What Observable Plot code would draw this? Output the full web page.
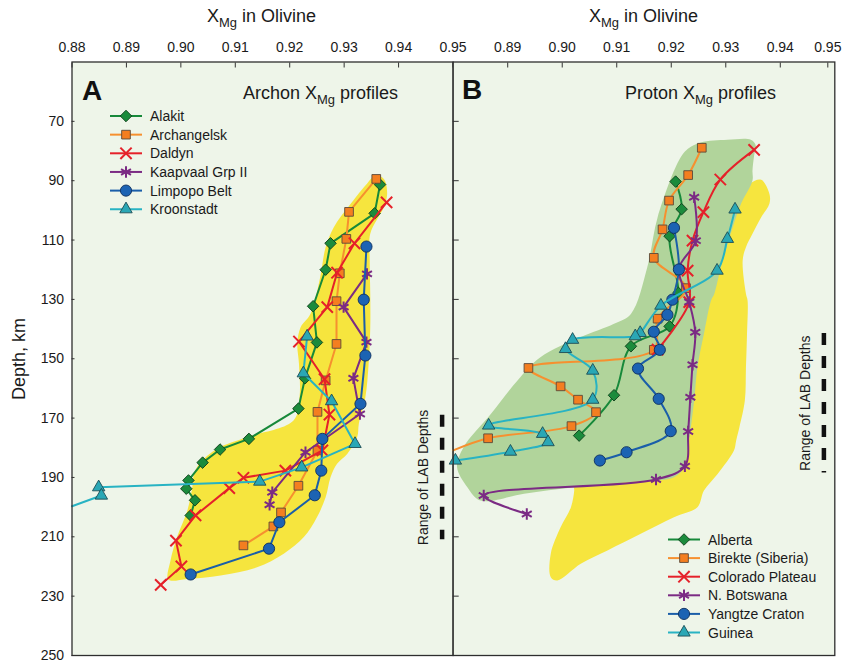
<!DOCTYPE html>
<html><head><meta charset="utf-8">
<script src="https://cdn.jsdelivr.net/npm/d3@7"></script>
<script src="https://cdn.jsdelivr.net/npm/@observablehq/plot@0.6"></script>
<style>
body{margin:0;background:#fff;font-family:"Liberation Sans",Arial,Helvetica,sans-serif;}
#wrap{position:relative;width:845px;height:661px;overflow:hidden;background:#fff}
#wrap > svg{position:absolute;top:0}
</style></head><body><div id="wrap"></div>
<script>
// ---------- axis ticks ----------
const xDomain = [0.88, 0.95];
const yDomain = [50, 250];
const xTicksA = [0.88, 0.89, 0.90, 0.91, 0.92, 0.93, 0.94, 0.95];
const xTicksB = [0.89, 0.90, 0.91, 0.92, 0.93, 0.94];
const xTickBEnd = [0.95];
const yTicks = [70, 90, 110, 130, 150, 170, 190, 210, 230, 250];

// ---------- Archon profiles (XMg, depth km) ----------
const alakit = [[0.9366,91.3],[0.9356,101.0],[0.9275,111.1],[0.9266,120.0],[0.9243,132.3],[0.9250,144.5],[0.9228,156.6],[0.9216,166.8],[0.9125,177.0],[0.9072,180.6],[0.9040,185.0],[0.9014,191.0],[0.9010,193.8],[0.9026,197.7],[0.9018,202.8]];
const archangelsk = [[0.9359,89.4],[0.9309,100.5],[0.9304,109.6],[0.9292,121.2],[0.9286,130.6],[0.9286,145.0],[0.9266,157.3],[0.9251,167.9],[0.9251,180.9],[0.9216,192.8],[0.9184,201.8],[0.9170,206.5],[0.9115,212.9]];
const daldyn = [[0.9378,97.3],[0.9319,111.1],[0.9287,121.0],[0.9269,132.6],[0.9217,144.2],[0.9264,156.9],[0.9273,168.8],[0.9260,180.9],[0.9192,187.7],[0.9115,190.1],[0.9089,193.6],[0.9027,202.8],[0.8991,211.3],[0.9001,220.0],[0.8963,226.2]];
const kaapvaal = [[0.9342,121.4],[0.9299,132.6],[0.9341,144.4],[0.9317,156.6],[0.9329,168.6],[0.9229,181.5],[0.9168,195.0],[0.9163,199.2]];
const limpopo = [[0.9341,112.2],[0.9336,130.1],[0.9339,148.9],[0.9330,165.2],[0.9260,177.0],[0.9258,187.7],[0.9246,196.0],[0.9181,205.1],[0.9162,214.0],[0.9018,222.7]];
// last pair: where the profile leaves the panel at its left edge (no marker visible)
const kroonstadt = [[0.9232,142.5],[0.9225,154.9],[0.9277,164.3],[0.9320,178.7],[0.9222,186.6],[0.9145,191.4],[0.8849,193.3],[0.8854,196.1],[0.8800,199.7]];

// ---------- Proton profiles ----------
const alberta = [[0.9208,90.3],[0.9219,99.6],[0.9197,108.7],[0.9213,127.8],[0.9197,139.1],[0.9126,145.8],[0.9095,162.3],[0.9031,175.9]];
const birekte = [[0.9256,78.9],[0.9231,88.1],[0.9196,96.7],[0.9184,106.4],[0.9168,116.0],[0.9227,126.2],[0.9175,136.5],[0.9168,147.0],[0.8938,153.1],[0.8997,159.3],[0.9029,163.8],[0.9062,168.0],[0.9017,172.7],[0.8864,176.8],[0.8800,180.9]];
const colorado = [[0.9352,79.6],[0.9290,89.6],[0.9259,100.6],[0.9239,110.2],[0.9230,120.3],[0.9233,130.9],[0.9175,146.9]];
const botswana = [[0.9242,95.6],[0.9245,110.2],[0.9214,119.7],[0.9233,130.9],[0.9244,141.1],[0.9239,152.0],[0.9235,163.0],[0.9231,174.5],[0.9225,186.2],[0.9172,190.7],[0.8856,196.1],[0.8935,202.3]];
const yangtze = [[0.9205,105.9],[0.9214,119.9],[0.9202,130.1],[0.9193,135.2],[0.9168,140.9],[0.9179,147.0],[0.9139,153.3],[0.9177,163.5],[0.9199,174.4],[0.9118,181.5],[0.9069,184.3]];
const guinea = [[0.9317,99.7],[0.9303,109.6],[0.9284,120.3],[0.9181,132.1],[0.9143,141.3],[0.9134,142.4],[0.9019,143.6],[0.9006,146.7],[0.9056,154.0],[0.9056,163.8],[0.8865,172.5],[0.8964,175.3],[0.8974,178.1],[0.8905,181.3],[0.8804,184.3]];

// ---------- envelopes ----------
const archonField = [[0.9358,88.2],[0.9373,89.4],[0.9379,94.4],[0.9373,98.9],[0.9348,107.9],[0.9347,116.9],[0.9348,128.1],[0.9348,139.4],[0.9345,151.7],[0.9339,163.0],[0.9327,171.9],[0.9324,176.4],[0.9306,182.0],[0.9287,185.4],[0.9275,189.9],[0.9266,196.7],[0.9250,203.4],[0.9226,210.1],[0.9189,215.7],[0.9140,220.3],[0.9073,223.0],[0.9012,224.2],[0.8977,224.4],[0.8981,218.0],[0.8993,210.1],[0.9012,201.1],[0.9021,193.3],[0.9024,188.8],[0.9036,184.9],[0.9067,180.3],[0.9122,176.4],[0.9207,170.8],[0.9218,163.0],[0.9217,151.7],[0.9214,145.0],[0.9220,139.4],[0.9238,134.9],[0.9256,122.5],[0.9266,112.4],[0.9281,105.7],[0.9312,97.8],[0.9342,91.0]];
const protonYellow = [[0.9365,89.7],[0.9380,94.4],[0.9380,97.8],[0.9365,102.3],[0.9349,107.9],[0.9337,112.4],[0.9331,116.9],[0.9337,128.1],[0.9340,130.4],[0.9339,141.5],[0.9337,152.9],[0.9335,164.1],[0.9325,173.1],[0.9319,177.6],[0.9315,180.9],[0.9285,188.8],[0.9260,194.4],[0.9248,200.0],[0.9205,203.4],[0.9144,209.0],[0.9083,214.6],[0.9034,219.1],[0.8991,224.7],[0.8979,223.6],[0.8979,215.7],[0.8997,206.8],[0.9016,200.0],[0.9022,194.4],[0.9022,192.0],[0.9120,190.0],[0.9200,188.0],[0.9215,180.0],[0.9228,160.0],[0.9238,140.0],[0.9258,128.0],[0.9280,116.0],[0.9310,104.0],[0.9345,91.0]];
const protonGreen = [[0.9214,83.2],[0.9230,79.3],[0.9254,77.1],[0.9303,76.2],[0.9346,76.2],[0.9355,78.1],[0.9352,81.5],[0.9349,86.6],[0.9349,89.9],[0.9328,97.8],[0.9309,107.9],[0.9291,119.2],[0.9279,128.1],[0.9273,130.4],[0.9260,141.6],[0.9248,152.9],[0.9242,164.1],[0.9230,180.9],[0.9224,186.5],[0.9205,189.9],[0.9120,191.6],[0.9022,193.3],[0.8930,195.5],[0.8850,197.8],[0.8826,193.3],[0.8807,186.5],[0.8819,179.8],[0.8869,168.6],[0.8918,157.3],[0.8960,149.5],[0.9034,142.7],[0.9095,138.2],[0.9126,134.9],[0.9156,119.2],[0.9175,102.3]];

// ---------- LAB depth ranges ----------
const labA = [169, 211];
const labB = [141.5, 188.5];
const labX = 0.948;

const archonNames = ["Alakit","Archangelsk","Daldyn","Kaapvaal Grp II","Limpopo Belt","Kroonstadt"];
const protonNames = ["Alberta","Birekte (Siberia)","Colorado Plateau","N. Botswana","Yangtze Craton","Guinea"];

// ---------- styles ----------
const BG = "#eef5e9";
const styles = [
  {symbol:"diamond2", d3s:d3.symbolDiamond2, line:"#17893a", fill:"#1b8b3c", stroke:"#0f3d1a", r:5.2},
  {symbol:"square", d3s:d3.symbolSquare, line:"#f6902f", fill:"#f47e20", stroke:"#5a4a3a", r:4.9},
  {symbol:"times", d3s:d3.symbolTimes, line:"#e5212a", r:5.2},
  {symbol:"asterisk", d3s:d3.symbolAsterisk, line:"#7b2b84", r:5.4},
  {symbol:"circle", d3s:d3.symbolCircle, line:"#1a5ea9", fill:"#1c63b3", stroke:"#0d2f5e", r:5.6},
  {symbol:"triangle", d3s:d3.symbolTriangle, line:"#28b3c3", fill:"#2aa7b5", stroke:"#1d4d55", r:4.6},
];
const archon = [alakit, archangelsk, daldyn, kaapvaal, limpopo, kroonstadt].map((data,i)=>({name:archonNames[i], data, st:styles[i]}));
const proton = [alberta, birekte, colorado, botswana, yangtze, guinea].map((data,i)=>({name:protonNames[i], data, st:styles[i]}));

const FONT = "Liberation Sans, Arial, sans-serif";
const X = d => d[0], Y = d => d[1];

function panel({width, marginLeft, marginRight, series, polys, curve, ticksX, ticksXEnd, yLabels, yTickSize, lab}) {
  const marks = [Plot.frame({fill: BG, stroke: null})];
  for (const p of polys) marks.push(Plot.line(p.pts, {x: X, y: Y, fill: p.fill, stroke: "none", curve: "catmull-rom-closed"}));
  marks.push(Plot.ruleX([lab], {x: () => labX, y1: d => d[0], y2: d => d[1], stroke: "#111", strokeWidth: 4.5, strokeDasharray: "12,11"}));
  marks.push(Plot.text([lab], {x: () => labX, y: d => (d[0]+d[1])/2, text: () => "Range of LAB Depths", rotate: -90, dx: -18.5, fontSize: 14, fill: "#1a1a1a", textAnchor: "middle", lineAnchor: "middle"}));
  for (const s of series) {
    marks.push(Plot.line(s.data, {x: X, y: Y, stroke: s.st.line, strokeWidth: 2, curve}));
    const vis = s.data.filter(d => d[0] > xDomain[0] && d[0] <= xDomain[1]);
    if (s.st.fill) marks.push(Plot.dot(vis, {x: X, y: Y, symbol: s.st.symbol, r: s.st.r, fill: s.st.fill, stroke: s.st.stroke, strokeWidth: 0.9}));
    else marks.push(Plot.dot(vis, {x: X, y: Y, symbol: s.st.symbol, r: s.st.r, fill: "none", stroke: s.st.line, strokeWidth: 2}));
  }
  const axOpts = {anchor: "top", tickSize: -5, tickPadding: 15, tickFormat: d3.format(".2f"), fontSize: 14, stroke: "#333", fill: "#1a1a1a", label: null};
  marks.push(Plot.axisX(ticksX, axOpts));
  if (ticksXEnd) marks.push(Plot.axisX(ticksXEnd, {...axOpts, dx: -7}));
  marks.push(Plot.axisY(yTicks, {anchor: "left", tickSize: yTickSize, tickPadding: yLabels ? 8 - yTickSize : 0, tickFormat: yLabels ? (d => String(d)) : (() => ""), fontSize: 14, stroke: "#333", fill: "#1a1a1a", label: null}));
  marks.push(Plot.frame({stroke: "#2e2e2e", strokeWidth: 1.3}));
  return Plot.plot({
    width, height: 661, marginLeft, marginRight, marginTop: 61.5, marginBottom: 6,
    style: {fontFamily: FONT, background: "transparent", overflow: "visible"},
    x: {domain: xDomain},
    y: {domain: yDomain, reverse: true},
    marks
  });
}

const wrap = document.getElementById("wrap");
const svgA = panel({width: 453, marginLeft: 71.5, marginRight: 0.5, series: archon,
  polys: [{pts: archonField, fill: "#f6e53e"}], curve: "linear", ticksX: xTicksA, yLabels: true, yTickSize: -3, lab: labA});
svgA.style.left = "0px";
wrap.appendChild(svgA);
const svgB = panel({width: 393, marginLeft: 0.7, marginRight: 10.7, series: proton,
  polys: [{pts: protonYellow, fill: "#f6e53e"}, {pts: protonGreen, fill: "#b1d49b"}], curve: "catmull-rom", ticksX: xTicksB, ticksXEnd: xTickBEnd, yLabels: false, yTickSize: -6, lab: labB});
svgB.style.left = "452px";
wrap.appendChild(svgB);

// ---------- overlay: titles, panel labels, legends ----------
const ov = d3.select(wrap).append("svg").attr("width", 845).attr("height", 661)
  .style("left", "0px").style("pointer-events", "none").style("font-family", FONT);

function subTitle(x, y, pre, post, size, anchor) {
  const t = ov.append("text").attr("x", x).attr("y", y).attr("font-size", size).attr("text-anchor", anchor).attr("fill", "#1a1a1a");
  t.append("tspan").text(pre + "X");
  t.append("tspan").attr("font-size", size * 0.72).attr("dy", size * 0.3).text("Mg");
  t.append("tspan").attr("dy", -size * 0.3).text(post);
}
subTitle(261.5, 22, "", " in Olivine", 18, "middle");
subTitle(643.5, 22, "", " in Olivine", 18, "middle");
subTitle(243, 99, "Archon ", " profiles", 18, "start");
subTitle(625, 99, "Proton ", " profiles", 18, "start");
ov.append("text").attr("x", 82).attr("y", 100).attr("font-size", 28).attr("font-weight", "bold").attr("fill", "#111").text("A");
ov.append("text").attr("x", 462).attr("y", 99).attr("font-size", 28).attr("font-weight", "bold").attr("fill", "#111").text("B");
ov.append("text").attr("transform", "translate(19,359) rotate(-90)").attr("text-anchor", "middle").attr("dominant-baseline", "central")
  .attr("font-size", 18).attr("fill", "#1a1a1a").text("Depth, km");

function legend(series, x0, y0, dy) {
  series.forEach((s, i) => {
    const y = y0 + i * dy;
    const g = ov.append("g");
    g.append("line").attr("x1", x0).attr("x2", x0 + 32).attr("y1", y).attr("y2", y).attr("stroke", s.st.line).attr("stroke-width", 2);
    const path = d3.symbol(s.st.d3s, Math.PI * s.st.r * s.st.r)();
    const p = g.append("path").attr("d", path).attr("transform", `translate(${x0 + 16},${y})`);
    if (s.st.fill) p.attr("fill", s.st.fill).attr("stroke", s.st.stroke).attr("stroke-width", 0.9);
    else p.attr("fill", "none").attr("stroke", s.st.line).attr("stroke-width", 2);
    g.append("text").attr("x", x0 + 40).attr("y", y).attr("dominant-baseline", "central").attr("font-size", 14).attr("fill", "#1a1a1a").text(s.name);
  });
}
legend(archon, 110, 116, 18.65);
legend(proton, 668, 539.5, 18.6);
</script></body></html>
